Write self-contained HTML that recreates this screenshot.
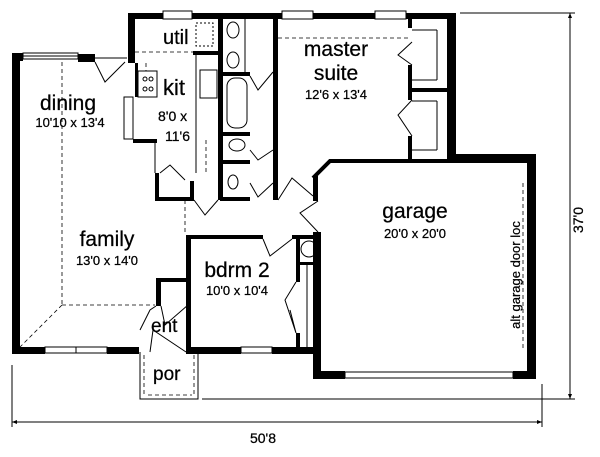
<!DOCTYPE html>
<html><head><meta charset="utf-8"><style>
html,body{margin:0;padding:0;background:#fff;}
svg{display:block;}
text{font-family:"Liberation Sans",Arial,sans-serif;fill:#000;stroke:#000;stroke-width:0.25;}
</style></head><body>
<svg width="600" height="457" viewBox="0 0 600 457" xmlns="http://www.w3.org/2000/svg">
<g fill="#000">
<rect x="12" y="53" width="8" height="301"/>
<rect x="12" y="53" width="11" height="8"/>
<rect x="78" y="54" width="17" height="8"/>
<rect x="128" y="13" width="7" height="50"/>
<rect x="128" y="13" width="35" height="6"/>
<rect x="192" y="13" width="90" height="6"/>
<rect x="313" y="13" width="62" height="6"/>
<rect x="406" y="13" width="50" height="6"/>
<rect x="447" y="13" width="9" height="150"/>
<rect x="447" y="154" width="89" height="9"/>
<rect x="527" y="154" width="9" height="225"/>
<rect x="316" y="371" width="29" height="8"/>
<rect x="513" y="371" width="23" height="8"/>
<rect x="313" y="232" width="8" height="147"/>
<rect x="313" y="176" width="5" height="25"/>
<rect x="12" y="347" width="33" height="7"/>
<rect x="107" y="347" width="32" height="7"/>
<rect x="186" y="347" width="55" height="7"/>
<rect x="272" y="347" width="49" height="7"/>
<rect x="135" y="63" width="3" height="34"/>
<rect x="133" y="139" width="24" height="4"/>
<rect x="193" y="51" width="25" height="4"/>
<rect x="218" y="13" width="5" height="187"/>
<rect x="223" y="72" width="27" height="4"/>
<rect x="223" y="132" width="27" height="4"/>
<rect x="223" y="160" width="27" height="4"/>
<rect x="220" y="197" width="30" height="4"/>
<rect x="273" y="13" width="5" height="187"/>
<rect x="155" y="173" width="4" height="27"/>
<rect x="155" y="197" width="38" height="4"/>
<rect x="190" y="181" width="4" height="20"/>
<rect x="408" y="13" width="4" height="15"/>
<rect x="408" y="65" width="4" height="35"/>
<rect x="408" y="136" width="4" height="24"/>
<rect x="412" y="88" width="35" height="4"/>
<rect x="186" y="235" width="5" height="117"/>
<rect x="186" y="235" width="77" height="4"/>
<rect x="292" y="235" width="29" height="4"/>
<rect x="296" y="235" width="4" height="47"/>
<rect x="296" y="333" width="4" height="17"/>
<rect x="300" y="262" width="21" height="3"/>
<rect x="156" y="278" width="5" height="28"/>
<rect x="156" y="278" width="32" height="4"/>
</g>
<polyline points="313,178 330,161 447,161" fill="none" stroke="#000" stroke-width="4"/>
<g fill="none" stroke="#000" stroke-width="1">
<rect x="23" y="53" width="55" height="6"/>
<line x1="23" y1="56" x2="78" y2="56"/>
<rect x="163" y="11" width="29" height="8"/>
<rect x="282" y="11" width="31" height="8"/>
<rect x="375" y="11" width="31" height="8"/>
<rect x="45" y="347" width="62" height="6"/><line x1="76" y1="347" x2="76" y2="353"/>
<rect x="241" y="347" width="31" height="6"/>
<rect x="345" y="372" width="168" height="6"/>
<path d="M95,62 L105,82 L125,62 M95,58 L127,58"/>
<path d="M412,42 L398,55 L412,65"/>
<path d="M412,100 L398,115 L412,136"/>
<path d="M250,76 L258,90 L273,72"/>
<path d="M250,150 L258,160 L273,150"/>
<path d="M250,183 L258,197 L273,183"/>
<path d="M263,239 L270,256 L292,239"/>
<path d="M296,282 L285,300 L296,333 L290,310"/>
<path d="M278,200 L292,178 L313,196"/>
<path d="M318,201 L300,213 L318,232"/>
<path d="M194,200 L205,215 L218,200"/>
<path d="M161,306 L165,325 L188,305"/>
<path d="M140,330 L150,310 L156,306 M150,352 L153,330 L186,352"/>
<path d="M160,173 L170,165 L185,180"/>
<rect x="124" y="97" width="9" height="42"/>
<rect x="138" y="71" width="19" height="26"/>
<circle cx="145" cy="79" r="2"/><circle cx="151" cy="79" r="2"/><circle cx="145" cy="89" r="2"/><circle cx="151" cy="89" r="2"/>
<rect x="200" y="70" width="17" height="28"/>
<rect x="196" y="23" width="17" height="23" stroke-dasharray="2,2"/>
<line x1="196" y1="55" x2="196" y2="173"/>
<line x1="155" y1="143" x2="155" y2="173"/>
<ellipse cx="233" cy="30" rx="6" ry="8"/><ellipse cx="233" cy="60" rx="6" ry="8"/>
<rect x="227" y="78" width="20" height="50" rx="8"/>
<ellipse cx="237" cy="145" rx="8" ry="6"/>
<ellipse cx="233" cy="182" rx="5" ry="7"/>
<line x1="245" y1="19" x2="245" y2="72"/>
<line x1="412" y1="30" x2="437" y2="30"/><line x1="437" y1="30" x2="437" y2="80"/><line x1="412" y1="80" x2="437" y2="80"/>
<line x1="412" y1="101" x2="437" y2="101"/><line x1="437" y1="101" x2="437" y2="150"/><line x1="412" y1="150" x2="437" y2="150"/>
<circle cx="309" cy="249" r="8"/>
<line x1="307" y1="265" x2="307" y2="347"/>
<path d="M140,352 L140,399 L198,399 L198,352"/>
<line x1="12" y1="422" x2="542" y2="422"/>
<line x1="12" y1="365" x2="12" y2="427"/>
<line x1="542" y1="384" x2="542" y2="427"/>
<line x1="570" y1="13" x2="570" y2="399"/>
<line x1="460" y1="13" x2="575" y2="13"/>
<line x1="202" y1="399" x2="575" y2="399"/>
</g>
<g fill="#000"><path d="M12,422 l5,-2 v4z"/><path d="M542,422 l-5,-2 v4z"/><path d="M570,13 l-2,5 h4z"/><path d="M570,399 l-2,-5 h4z"/></g>
<g fill="none" stroke="#000" stroke-width="0.8" stroke-dasharray="4,3">
<line x1="62" y1="62" x2="62" y2="305"/>
<line x1="62" y1="305" x2="155" y2="305"/>
<line x1="62" y1="305" x2="20" y2="347"/>
<line x1="185" y1="200" x2="185" y2="235"/>
<line x1="135" y1="52" x2="193" y2="52"/>
<line x1="278" y1="38" x2="408" y2="38"/>
<line x1="523" y1="183" x2="523" y2="350"/>
<line x1="144" y1="355" x2="144" y2="395"/>
<line x1="194" y1="355" x2="194" y2="395"/>
<line x1="148" y1="395" x2="192" y2="395"/>
<line x1="146" y1="63" x2="146" y2="71"/>
<line x1="206" y1="140" x2="206" y2="173"/>
</g>
<text x="163" y="44" font-size="20">util</text>
<text x="163" y="95" font-size="22">kit</text>
<text x="158" y="121" font-size="14">8'0 x</text>
<text x="165" y="141" font-size="14">11'6</text>
<text x="68" y="110" font-size="21" text-anchor="middle">dining</text>
<text x="70" y="127" font-size="13" text-anchor="middle">10'10 x 13'4</text>
<text x="336" y="56" font-size="21" text-anchor="middle">master</text>
<text x="336" y="80" font-size="21" text-anchor="middle">suite</text>
<text x="336" y="99" font-size="13" text-anchor="middle">12'6 x 13'4</text>
<text x="415" y="218" font-size="21" text-anchor="middle">garage</text>
<text x="415" y="238" font-size="13" text-anchor="middle">20'0 x 20'0</text>
<text x="107" y="246" font-size="21" text-anchor="middle">family</text>
<text x="107" y="265" font-size="13" text-anchor="middle">13'0 x 14'0</text>
<text x="237" y="277" font-size="21" text-anchor="middle">bdrm 2</text>
<text x="237" y="295" font-size="13" text-anchor="middle">10'0 x 10'4</text>
<text x="151" y="332" font-size="19">ent</text>
<text x="153" y="380" font-size="19">por</text>
<text x="263" y="443" font-size="14" text-anchor="middle">50'8</text>
<text transform="translate(520,275) rotate(-90)" font-size="13" text-anchor="middle">alt garage door loc</text>
<text transform="translate(583,220) rotate(-90)" font-size="14" text-anchor="middle">37'0</text>
</svg>
</body></html>
